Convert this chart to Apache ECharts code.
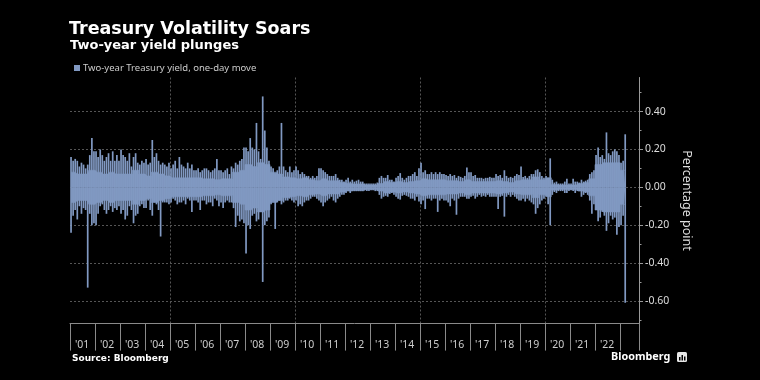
<!DOCTYPE html>
<html><head><meta charset="utf-8">
<script src="https://cdn.jsdelivr.net/npm/echarts@6/dist/echarts.min.js"></script>
<style>html,body{margin:0;padding:0;background:#000;}#c{width:760px;height:380px;}</style>
</head><body><div id="c"></div>
<script>
// ---- texts ----
const titleText = 'Treasury Volatility Soars';
const subtitleText = 'Two-year yield plunges';
const seriesName = 'Two-year Treasury yield, one-day move';
const yAxisName = 'Percentage point';
const sourceText = 'Source: Bloomberg';
const logoText = 'Bloomberg';

// ---- axis ticks ----
const yTickValues = [-0.6, -0.4, -0.2, 0, 0.2, 0.4];
const yMinorTickValues = [-0.7, -0.5, -0.3, -0.1, 0.1, 0.3, 0.5];
const xGridYears = [2005, 2010, 2015, 2020];
const firstYear = 2001;
const lastLabelYear = 2022;

// ---- monthly extremes of the one-day move (percentage point) ----
const hi2001 = [0.16, 0.14, 0.15, 0.14, 0.11, 0.13, 0.12, 0.10, 0.12, 0.17, 0.26, 0.19];
const lo2001 = [-0.24, -0.15, -0.12, -0.17, -0.10, -0.14, -0.11, -0.12, -0.53, -0.14, -0.20, -0.19];
const hi2002 = [0.19, 0.16, 0.20, 0.17, 0.14, 0.16, 0.18, 0.14, 0.19, 0.14, 0.17, 0.14];
const lo2002 = [-0.20, -0.14, -0.10, -0.09, -0.12, -0.14, -0.12, -0.10, -0.13, -0.11, -0.12, -0.10];
const hi2003 = [0.20, 0.17, 0.16, 0.14, 0.18, 0.11, 0.16, 0.18, 0.13, 0.12, 0.14, 0.13];
const lo2003 = [-0.14, -0.12, -0.17, -0.15, -0.10, -0.12, -0.19, -0.15, -0.14, -0.10, -0.09, -0.11];
const hi2004 = [0.15, 0.12, 0.13, 0.25, 0.16, 0.18, 0.14, 0.12, 0.13, 0.12, 0.11, 0.13];
const lo2004 = [-0.11, -0.07, -0.12, -0.15, -0.08, -0.09, -0.12, -0.26, -0.08, -0.08, -0.08, -0.09];
const hi2005 = [0.10, 0.12, 0.14, 0.10, 0.16, 0.12, 0.11, 0.10, 0.13, 0.10, 0.12, 0.09];
const lo2005 = [-0.08, -0.06, -0.07, -0.09, -0.08, -0.08, -0.07, -0.09, -0.06, -0.07, -0.13, -0.07];
const hi2006 = [0.09, 0.10, 0.08, 0.09, 0.10, 0.10, 0.09, 0.08, 0.09, 0.10, 0.15, 0.09];
const lo2006 = [-0.07, -0.08, -0.12, -0.07, -0.07, -0.09, -0.08, -0.08, -0.10, -0.06, -0.07, -0.10];
const hi2007 = [0.09, 0.08, 0.09, 0.10, 0.07, 0.11, 0.10, 0.13, 0.12, 0.14, 0.15, 0.21];
const lo2007 = [-0.08, -0.11, -0.08, -0.07, -0.08, -0.08, -0.11, -0.21, -0.15, -0.18, -0.17, -0.19];
const hi2008 = [0.21, 0.19, 0.26, 0.21, 0.20, 0.34, 0.19, 0.15, 0.48, 0.30, 0.21, 0.14];
const lo2008 = [-0.35, -0.20, -0.22, -0.15, -0.14, -0.18, -0.17, -0.13, -0.50, -0.20, -0.18, -0.16];
const hi2009 = [0.11, 0.10, 0.07, 0.09, 0.11, 0.34, 0.11, 0.09, 0.08, 0.11, 0.08, 0.09];
const lo2009 = [-0.09, -0.07, -0.22, -0.08, -0.07, -0.09, -0.08, -0.07, -0.07, -0.06, -0.07, -0.08];
const hi2010 = [0.11, 0.09, 0.07, 0.08, 0.07, 0.06, 0.06, 0.05, 0.06, 0.05, 0.06, 0.10];
const lo2010 = [-0.07, -0.10, -0.09, -0.10, -0.08, -0.07, -0.07, -0.06, -0.05, -0.05, -0.06, -0.07];
const hi2011 = [0.10, 0.09, 0.08, 0.07, 0.06, 0.06, 0.06, 0.07, 0.05, 0.04, 0.04, 0.03];
const lo2011 = [-0.08, -0.10, -0.08, -0.07, -0.06, -0.05, -0.07, -0.08, -0.06, -0.05, -0.04, -0.04];
const hi2012 = [0.04, 0.05, 0.03, 0.04, 0.03, 0.035, 0.04, 0.03, 0.03, 0.02, 0.02, 0.02];
const lo2012 = [-0.03, -0.02, -0.03, -0.02, -0.02, -0.02, -0.02, -0.02, -0.02, -0.015, -0.02, -0.02];
const hi2013 = [0.02, 0.02, 0.02, 0.025, 0.05, 0.06, 0.05, 0.05, 0.065, 0.04, 0.04, 0.03];
const lo2013 = [-0.015, -0.015, -0.02, -0.02, -0.04, -0.06, -0.05, -0.045, -0.05, -0.035, -0.03, -0.04];
const hi2014 = [0.05, 0.06, 0.075, 0.05, 0.04, 0.05, 0.06, 0.06, 0.07, 0.08, 0.06, 0.10];
const lo2014 = [-0.05, -0.06, -0.065, -0.045, -0.04, -0.045, -0.05, -0.06, -0.06, -0.07, -0.05, -0.075];
const hi2015 = [0.13, 0.08, 0.09, 0.07, 0.07, 0.08, 0.07, 0.08, 0.07, 0.08, 0.07, 0.07];
const lo2015 = [-0.09, -0.07, -0.115, -0.06, -0.06, -0.07, -0.06, -0.06, -0.13, -0.07, -0.06, -0.07];
const hi2016 = [0.065, 0.06, 0.07, 0.06, 0.065, 0.05, 0.06, 0.055, 0.05, 0.06, 0.105, 0.08];
const lo2016 = [-0.07, -0.08, -0.10, -0.06, -0.07, -0.145, -0.06, -0.05, -0.05, -0.05, -0.06, -0.06];
const hi2017 = [0.08, 0.06, 0.065, 0.05, 0.05, 0.05, 0.045, 0.05, 0.05, 0.055, 0.05, 0.05];
const lo2017 = [-0.05, -0.045, -0.06, -0.05, -0.04, -0.05, -0.045, -0.05, -0.04, -0.05, -0.05, -0.05];
const hi2018 = [0.07, 0.06, 0.065, 0.05, 0.09, 0.06, 0.05, 0.055, 0.05, 0.06, 0.07, 0.065];
const lo2018 = [-0.05, -0.115, -0.05, -0.045, -0.155, -0.05, -0.04, -0.05, -0.04, -0.05, -0.06, -0.07];
const hi2019 = [0.11, 0.055, 0.06, 0.05, 0.06, 0.07, 0.07, 0.09, 0.095, 0.08, 0.06, 0.05];
const lo2019 = [-0.07, -0.06, -0.075, -0.06, -0.07, -0.08, -0.09, -0.14, -0.11, -0.09, -0.07, -0.06];
const hi2020 = [0.06, 0.05, 0.153, 0.04, 0.025, 0.03, 0.02, 0.02, 0.02, 0.03, 0.045, 0.02];
const lo2020 = [-0.05, -0.09, -0.20, -0.04, -0.025, -0.03, -0.02, -0.02, -0.02, -0.03, -0.03, -0.02];
const hi2021 = [0.02, 0.045, 0.03, 0.03, 0.025, 0.04, 0.03, 0.035, 0.04, 0.07, 0.08, 0.09];
const lo2021 = [-0.015, -0.02, -0.03, -0.02, -0.02, -0.05, -0.04, -0.03, -0.04, -0.07, -0.14, -0.09];
const hi2022 = [0.17, 0.21, 0.16, 0.17, 0.15, 0.29, 0.18, 0.17, 0.19, 0.20, 0.19, 0.17];
const lo2022 = [-0.12, -0.18, -0.16, -0.13, -0.15, -0.23, -0.19, -0.15, -0.17, -0.16, -0.25, -0.21];
const hi2023 = [0.13, 0.14, 0.28];
const lo2023 = [-0.20, -0.15, -0.61];

// ---- quarterly width of the dense band (typical day-to-day move, +/-) ----
const band2001 = [0.08, 0.07, 0.07, 0.09];
const band2002 = [0.08, 0.07, 0.08, 0.07];
const band2003 = [0.07, 0.07, 0.09, 0.07];
const band2004 = [0.06, 0.08, 0.07, 0.06];
const band2005 = [0.05, 0.05, 0.05, 0.05];
const band2006 = [0.05, 0.045, 0.045, 0.04];
const band2007 = [0.045, 0.045, 0.08, 0.09];
const band2008 = [0.12, 0.11, 0.13, 0.12];
const band2009 = [0.08, 0.07, 0.055, 0.05];
const band2010 = [0.045, 0.05, 0.04, 0.035];
const band2011 = [0.045, 0.035, 0.035, 0.025];
const band2012 = [0.02, 0.018, 0.018, 0.012];
const band2013 = [0.012, 0.02, 0.03, 0.025];
const band2014 = [0.03, 0.025, 0.03, 0.035];
const band2015 = [0.045, 0.04, 0.04, 0.04];
const band2016 = [0.035, 0.035, 0.03, 0.04];
const band2017 = [0.03, 0.03, 0.03, 0.03];
const band2018 = [0.035, 0.03, 0.025, 0.035];
const band2019 = [0.04, 0.04, 0.055, 0.04];
const band2020 = [0.05, 0.015, 0.012, 0.012];
const band2021 = [0.012, 0.02, 0.025, 0.045];
const band2022 = [0.12, 0.13, 0.13, 0.13];
const band2023 = [0.09];

const highsByYear = [hi2001, hi2002, hi2003, hi2004, hi2005, hi2006, hi2007, hi2008, hi2009, hi2010, hi2011, hi2012,
  hi2013, hi2014, hi2015, hi2016, hi2017, hi2018, hi2019, hi2020, hi2021, hi2022, hi2023];
const lowsByYear = [lo2001, lo2002, lo2003, lo2004, lo2005, lo2006, lo2007, lo2008, lo2009, lo2010, lo2011, lo2012,
  lo2013, lo2014, lo2015, lo2016, lo2017, lo2018, lo2019, lo2020, lo2021, lo2022, lo2023];
const bandsByYear = [band2001, band2002, band2003, band2004, band2005, band2006, band2007, band2008, band2009,
  band2010, band2011, band2012, band2013, band2014, band2015, band2016, band2017, band2018, band2019, band2020,
  band2021, band2022, band2023];

// ---- build series (x = date as fractional year) ----
const hiData = [], loData = [], bandUp = [], bandDn = [];
highsByYear.forEach((arr, i) => arr.forEach((v, m) => hiData.push([firstYear + i + (m + 0.5) / 12, v])));
lowsByYear.forEach((arr, i) => arr.forEach((v, m) => loData.push([firstYear + i + (m + 0.5) / 12, v])));
bandsByYear.forEach((arr, i) => arr.forEach((v, q) => {
  const months = Math.min(3, highsByYear[i].length - q * 3);
  for (let k = 0; k < months; k++) {
    const x = firstYear + i + (q * 3 + k + 0.5) / 12;
    bandUp.push([x, v]);
    bandDn.push([x, -v]);
  }
}));

const barColor = '#7c93bb';
const spikeColor = '#8199c2';
const gridColor = '#555';
const axisColor = '#8a8a8a';
const xMax = 2023.76;

const chart = echarts.init(document.getElementById('c'), null, {renderer: 'canvas'});
chart.setOption({
  backgroundColor: '#000',
  animation: false,
  title: [
    {text: titleText, left: 69, top: 20, padding: 0,
      textStyle: {color: '#fff', fontFamily: 'DejaVu Sans', fontWeight: 'bold', fontSize: 17.5}},
    {text: subtitleText, left: 70, top: 39, padding: 0,
      textStyle: {color: '#fff', fontFamily: 'DejaVu Sans', fontWeight: 'bold', fontSize: 13}},
    {text: sourceText, left: 72, top: 354, padding: 0,
      textStyle: {color: '#fff', fontFamily: 'DejaVu Sans', fontWeight: 'bold', fontSize: 9}},
    {text: logoText, left: 611, top: 351, padding: 0,
      textStyle: {color: '#fff', fontFamily: 'Noto Sans', fontWeight: 'bold', fontSize: 10.8}}
  ],
  legend: {
    left: 74, top: 63, padding: 0, itemWidth: 6, itemHeight: 6, icon: 'rect', selectedMode: false,
    data: [seriesName],
    textStyle: {color: '#ccc', fontFamily: 'Noto Sans', fontSize: 9.5, padding: [0, 0, 0, -2]}
  },
  grid: {left: 70, right: 121, top: 77.5, bottom: 56.4, containLabel: false},
  xAxis: [{
    type: 'value', min: firstYear, max: xMax, interval: 1,
    axisLine: {show: true, onZero: false, lineStyle: {color: axisColor}},
    axisTick: {show: true, length: 27, lineStyle: {color: axisColor}},
    axisLabel: {
      align: 'left', padding: [0, 0, 0, 5], margin: 16, color: '#ccc',
      fontFamily: 'Noto Sans', fontSize: 10.5, showMinLabel: true, showMaxLabel: true,
      formatter: v => (v <= lastLabelYear && Number.isInteger(v)) ? "'" + String(v).slice(2) : ''
    },
    splitLine: {show: false}
  }, {
    type: 'value', min: firstYear, max: xMax, position: 'bottom',
    axisLine: {show: false, onZero: false},
    axisTick: {show: false, customValues: xGridYears},
    axisLabel: {show: false, customValues: xGridYears},
    splitLine: {show: true, lineStyle: {color: gridColor, type: [2, 2], width: 1}}
  }],
  yAxis: [{
    type: 'value', position: 'right', min: -0.72, max: 0.58,
    axisLine: {show: true, onZero: false, lineStyle: {color: '#9a9a9a'}},
    axisTick: {show: true, length: 4, customValues: yTickValues, lineStyle: {color: '#9a9a9a'}},
    axisLabel: {customValues: yTickValues, formatter: v => v.toFixed(2), color: '#ddd',
      fontFamily: 'Noto Sans', fontSize: 10.5, margin: 6},
    splitLine: {show: true, lineStyle: {color: gridColor, type: [2, 2], width: 1}},
    name: yAxisName, nameLocation: 'middle', nameRotate: -90, nameGap: 32,
    nameTextStyle: {color: '#ddd', fontFamily: 'Noto Sans', fontSize: 12.5}
  }, {
    type: 'value', position: 'right', min: -0.72, max: 0.58,
    axisLine: {show: false, onZero: false},
    axisTick: {show: true, length: 2.5, customValues: yMinorTickValues, lineStyle: {color: '#9a9a9a'}},
    axisLabel: {show: false},
    splitLine: {show: false}
  }],
  series: [
    {type: 'line', name: 'band up', data: bandUp, step: 'middle', showSymbol: false, symbol: 'none',
      lineStyle: {width: 0.6, color: barColor}, areaStyle: {color: barColor, opacity: 1}, z: 3},
    {type: 'line', name: 'band down', data: bandDn, step: 'middle', showSymbol: false, symbol: 'none',
      lineStyle: {width: 0.6, color: barColor}, areaStyle: {color: barColor, opacity: 1}, z: 3},
    {type: 'bar', name: seriesName, data: hiData, barWidth: 1.7, barGap: '-100%',
      itemStyle: {color: spikeColor}, z: 4},
    {type: 'bar', name: seriesName, data: loData, barWidth: 1.7, barGap: '-100%',
      itemStyle: {color: spikeColor}, z: 4}
  ],
  graphic: [
    {type: 'rect', left: 677, top: 352, shape: {width: 10, height: 10, r: 1.5}, style: {fill: '#e6e6e6'}},
    {type: 'rect', left: 679, top: 357, shape: {width: 1.5, height: 3.5}, style: {fill: '#000'}},
    {type: 'rect', left: 681.5, top: 355, shape: {width: 1.5, height: 5.5}, style: {fill: '#000'}},
    {type: 'rect', left: 684, top: 356.5, shape: {width: 1.5, height: 4}, style: {fill: '#000'}}
  ]
});
</script></body></html>
